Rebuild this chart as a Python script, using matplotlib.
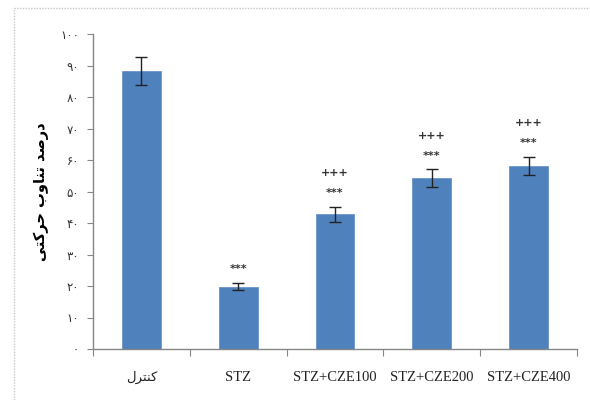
import numpy as np
import matplotlib
matplotlib.use('Agg')
import matplotlib.pyplot as plt
from matplotlib.lines import Line2D

### Data
groups    = ['کنترل', 'STZ', 'STZ+CZE100', 'STZ+CZE200', 'STZ+CZE400']
means     = [88.3, 19.8, 42.8, 54.2, 58.2]
errors    = [4.5, 1.2, 2.4, 2.8, 2.9]
sig_stz   = ['', '***', '***', '***', '***']
sig_treat = ['', '', '+++', '+++', '+++']
yticks    = list(range(0, 101, 10))
ylabel    = 'درصد تناوب حرکتی'

### Persian text helper: matplotlib has no shaping, so pick contextual forms by hand
# letter -> (isolated, final, initial, medial)
FORMS = {
    'ا': ('\ufe8d', '\ufe8e', None, None),
    'ب': ('\ufe8f', '\ufe90', '\ufe91', '\ufe92'),
    'ت': ('\ufe95', '\ufe96', '\ufe97', '\ufe98'),
    'ح': ('\ufea1', '\ufea2', '\ufea3', '\ufea4'),
    'د': ('\ufea9', '\ufeaa', None, None),
    'ر': ('\ufead', '\ufeae', None, None),
    'ص': ('\ufeb9', '\ufeba', '\ufebb', '\ufebc'),
    'ل': ('\ufedd', '\ufede', '\ufedf', '\ufee0'),
    'ن': ('\ufee5', '\ufee6', '\ufee7', '\ufee8'),
    'و': ('\ufeed', '\ufeee', None, None),
    'ک': ('\ufb8e', '\ufb8f', '\ufb90', '\ufb91'),
    'ی': ('\ufbfc', '\ufbfd', '\ufbfe', '\ufbff'),
}

def fa(text):
    if not any(c in FORMS for c in text):
        return text
    out = []
    for i, c in enumerate(text):
        if c not in FORMS:
            out.append(c)
            continue
        prev = text[i-1] if i > 0 else ''
        nxt  = text[i+1] if i < len(text)-1 else ''
        dual = FORMS[c][2] is not None
        j_prev = prev in FORMS and FORMS[prev][2] is not None
        j_next = dual and nxt in FORMS
        if j_prev and j_next:
            out.append(FORMS[c][3])
        elif j_prev:
            out.append(FORMS[c][1])
        elif j_next:
            out.append(FORMS[c][2])
        else:
            out.append(FORMS[c][0])
    return ''.join(out[::-1])

def fa_digits(n):
    return str(n).translate(str.maketrans('0123456789', '۰۱۲۳۴۵۶۷۸۹'))

### Figure
fig = plt.figure(figsize=(5.9, 4.0), dpi=100)
ax = fig.add_axes([93/590, 1-349/400, (577-93)/590, (349-34)/400])

# dotted frame of the chart area
fig.add_artist(Line2D([14/590, 1], [1-8/400, 1-8/400], transform=fig.transFigure,
                      color='#c8c8c8', lw=1, ls=(0, (1, 1))))
fig.add_artist(Line2D([14/590, 14/590], [0, 1-8/400], transform=fig.transFigure,
                      color='#c8c8c8', lw=1, ls=(0, (1, 1))))

x = np.arange(len(groups))
ax.bar(x, means, width=0.4, color='#4f81bd', edgecolor='#6b95c8', lw=0.6, zorder=2)
ax.errorbar(x, means, yerr=errors, fmt='none', ecolor='#222222', elinewidth=1,
            capsize=4, capthick=1, zorder=3)

for xi, m, e, s1, s2 in zip(x, means, errors, sig_stz, sig_treat):
    if s1:
        ax.annotate(s1, (xi, m+e), xytext=(0, 10), textcoords='offset points',
                    ha='center', va='center', fontsize=8, fontweight='bold', color='#333333')
    if s2:
        ax.annotate(s2, (xi, m+e), xytext=(0, 24), textcoords='offset points',
                    ha='center', va='center', fontsize=8, fontweight='bold', color='#333333')

ax.set_xlim(-0.5, len(groups)-0.5)
ax.set_ylim(0, 100)

ax.set_yticks(yticks)
ax.set_yticklabels([fa_digits(t) for t in yticks], fontsize=8.5, family='DejaVu Sans', color='#333333')
ax.tick_params(axis='y', length=4, width=0.8, color='#868686', pad=6)

ax.set_xticks(x)
ax.set_xticklabels([fa(g) for g in groups], fontsize=10.5, family='Liberation Serif', color='#222222')
ax.get_xticklabels()[0].set_family('DejaVu Sans')
ax.get_xticklabels()[0].set_fontsize(9.5)
ax.tick_params(axis='x', length=0, pad=16)
ax.set_xticks(np.arange(-0.5, len(groups)), minor=True)
ax.tick_params(axis='x', which='minor', length=5, width=0.8, color='#868686')

ax.set_ylabel(fa(ylabel), fontsize=10.5, fontweight='bold', family='DejaVu Sans', labelpad=8)

for side in ['top', 'right']:
    ax.spines[side].set_visible(False)
for side in ['left', 'bottom']:
    ax.spines[side].set_color('#868686')
    ax.spines[side].set_linewidth(1)

fig.savefig('out.png', dpi=100)
